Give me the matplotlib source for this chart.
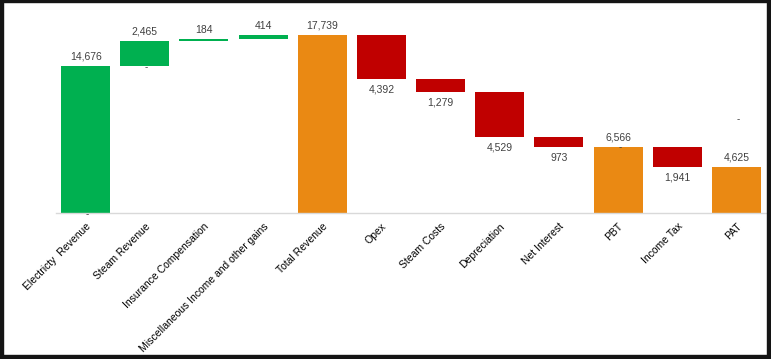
import matplotlib.pyplot as plt
from matplotlib.patches import Rectangle

plt.rcParams['font.family'] = ['Liberation Sans', 'DejaVu Sans']

categories = ['Electricty  Revenue', 'Steam Revenue', 'Insurance Compensation',
              'Miscellaneous Income and other gains', 'Total Revenue', 'Opex',
              'Steam Costs', 'Depreciation', 'Net Interest', 'PBT', 'Income Tax', 'PAT']
values = [14676, 2465, 184, 414, 17739, 4392, 1279, 4529, 973, 6566, 1941, 4625]
kind = ['up', 'up', 'up', 'up', 'total', 'down', 'down', 'down', 'down', 'total', 'down', 'total']

colors = {'up': '#00B050', 'down': '#C00000', 'total': '#EA8913'}

fig = plt.figure(figsize=(7.71, 3.59), dpi=100)
ax = fig.add_axes([56 / 771, 146 / 359, 710 / 771, 201 / 359])

# running level for the waterfall
level = 0
bottoms = []
for v, k in zip(values, kind):
    if k == 'up':
        bottoms.append(level)
        level += v
    elif k == 'down':
        level -= v
        bottoms.append(level)
    else:
        bottoms.append(0)
        level = v

x = list(range(len(values)))
ax.bar(x, values, bottom=bottoms, width=0.83,
       color=[colors[k] for k in kind], zorder=2)

for i, (v, b, k) in enumerate(zip(values, bottoms, kind)):
    txt = f'{v:,}'
    if k == 'down':
        ax.annotate(txt, (i, b), xytext=(0, -4), textcoords='offset points',
                    ha='center', va='top', fontsize=7.5, color='#404040')
    else:
        ax.annotate(txt, (i, b + v), xytext=(0, 3), textcoords='offset points',
                    ha='center', va='bottom', fontsize=7.5, color='#404040')

# stray zero-value labels of hidden series
dash_pos = [(0, -150), (1, 14476), (9, 6566), (11, 9300)]
for i, y in dash_pos:
    ax.text(i + 0.03, y, '-', ha='center', va='center', fontsize=7,
            color='#404040', zorder=4, clip_on=False)

ax.set_xlim(-0.5, 11.5)
ax.set_ylim(0, 20000)
ax.set_yticks([])
ax.set_xticks(x)
ax.set_xticklabels(categories, rotation=45, ha='right', rotation_mode='anchor',
                   fontsize=7.5, color='#000000')
ax.tick_params(axis='x', length=0, pad=6)
for s in ['top', 'right', 'left']:
    ax.spines[s].set_visible(False)
ax.spines['bottom'].set_color('#D9D9D9')
ax.spines['bottom'].set_linewidth(1)

# dark frame around the picture
frame = '#141414'
fig.patches.append(Rectangle((0, 0), 3 / 771, 1, transform=fig.transFigure, color=frame))
fig.patches.append(Rectangle((0, 1 - 2 / 359), 1, 2 / 359, transform=fig.transFigure, color=frame))
fig.patches.append(Rectangle((1 - 4 / 771, 0), 4 / 771, 1, transform=fig.transFigure, color=frame))
fig.patches.append(Rectangle((0, 0), 1, 4 / 359, transform=fig.transFigure, color=frame))

fig.savefig('out.png', dpi=100)
